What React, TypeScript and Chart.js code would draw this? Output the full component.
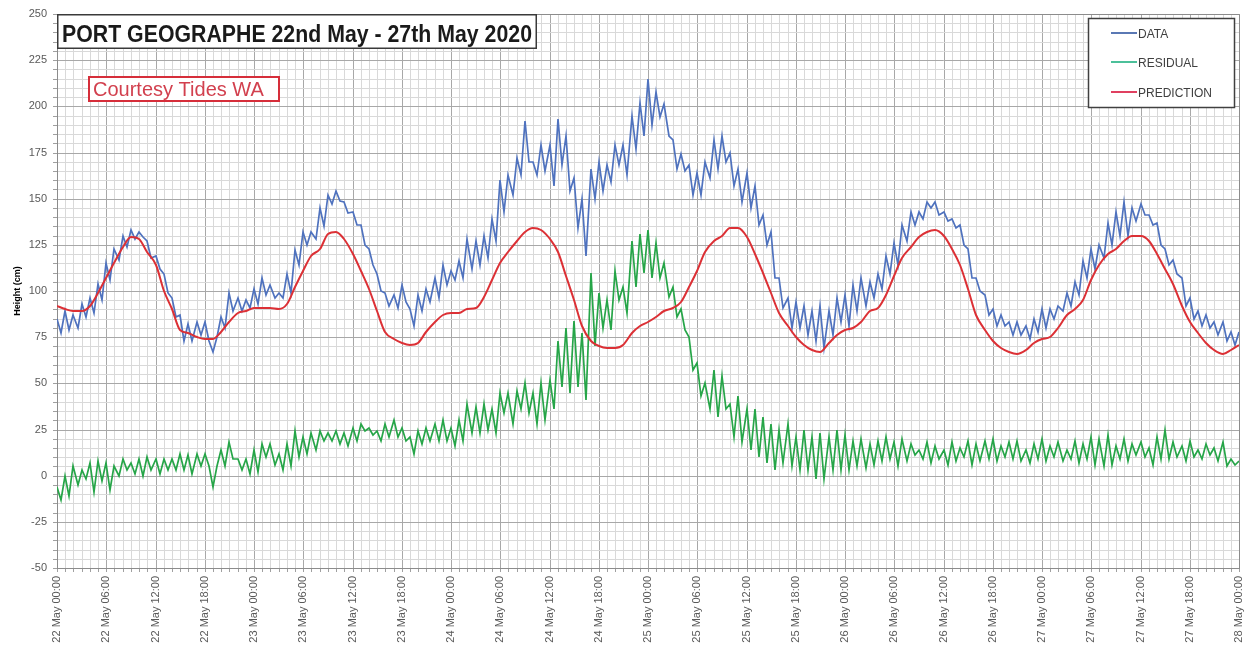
import React, { useEffect, useRef } from 'react';
import { Chart, registerables } from 'chart.js';

Chart.register(...registerables);

// X tick labels every 6 hours (x axis value = hours since 22 May 00:00)
const tickLabels = [
  '22 May 00:00', '22 May 06:00', '22 May 12:00', '22 May 18:00',
  '23 May 00:00', '23 May 06:00', '23 May 12:00', '23 May 18:00',
  '24 May 00:00', '24 May 06:00', '24 May 12:00', '24 May 18:00',
  '25 May 00:00', '25 May 06:00', '25 May 12:00', '25 May 18:00',
  '26 May 00:00', '26 May 06:00', '26 May 12:00', '26 May 18:00',
  '27 May 00:00', '27 May 06:00', '27 May 12:00', '27 May 18:00',
  '28 May 00:00',
];

const seriesNames = ['DATA', 'RESIDUAL', 'PREDICTION'];

// DATA, half-hourly readings (cm)
const data22 = [85,77,89,79,87,80,93,86,96,88,104,95,115,106,123,117,130,124,133,128,132,129,127,118,119,112,109,99,96,86,87,73,82,73,83,76,83,73,67,75,86,80,99,89,96,89,95,91];
const data23 = [101,93,107,98,103,96,99,96,109,99,122,114,132,125,132,128,145,135,152,147,154,149,148,142,143,136,136,125,123,114,109,100,99,92,98,91,103,94,90,81,98,89,101,94,107,96,114,103];
const data24 = [111,106,116,107,128,112,127,114,130,118,139,127,160,143,163,152,172,163,192,170,170,163,179,165,179,157,193,168,184,154,161,134,150,119,166,150,170,154,168,159,179,168,179,163,195,177,202,184];
const data25 = [215,190,208,194,201,184,182,166,174,165,168,152,164,152,170,161,182,166,184,170,175,157,166,148,164,145,157,136,141,125,132,107,107,91,96,80,94,80,92,76,89,73,92,69,89,76,96,83];
const data26 = [98,81,103,89,107,92,105,96,109,101,119,109,126,114,136,127,143,136,143,139,148,145,148,141,143,138,139,134,136,125,123,107,107,100,98,87,90,81,87,81,83,76,83,76,81,74,85,78];
const data27 = [90,80,90,85,92,89,99,92,105,98,116,107,123,112,125,118,137,125,143,130,148,130,145,138,147,141,141,136,137,125,123,114,117,109,107,92,96,85,89,81,87,80,83,76,83,73,78,71,78];

// RESIDUAL, half-hourly readings (cm)
const res22 = [-6,-13,0,-11,5,-5,3,-2,7,-9,8,-3,7,-8,5,0,9,3,7,1,9,0,10,3,9,1,9,3,9,3,12,3,11,1,12,5,12,5,-6,5,14,5,18,9,9,3,9,1];
const res23 = [14,2,17,10,17,6,12,3,17,5,24,10,21,12,23,14,24,19,23,19,24,17,23,16,26,19,28,24,26,22,24,19,28,21,30,21,26,19,21,12,24,17,26,19,28,19,30,19];
const res24 = [26,16,30,19,39,23,37,23,39,25,36,23,45,34,45,28,46,36,50,34,45,28,50,30,52,36,73,48,80,45,84,48,77,41,110,70,99,80,95,79,111,95,102,88,127,102,131,110];
const res25 = [133,107,126,107,115,97,102,86,90,79,75,57,61,43,50,36,57,32,54,36,39,21,43,18,36,14,36,10,32,7,28,3,25,7,28,5,21,3,25,3,21,-2,23,-2,21,3,25,3];
const res26 = [22,3,19,5,20,4,17,6,19,8,21,9,18,5,20,8,17,11,14,9,18,7,16,9,14,6,18,8,15,10,19,6,17,8,19,9,20,8,16,10,18,9,19,8,14,7,17,9];
const res27 = [20,8,16,10,18,8,14,9,19,7,17,9,21,6,20,5,22,6,16,9,20,8,17,11,18,10,15,6,21,9,25,9,18,10,16,8,19,10,14,9,17,11,15,8,18,5,9,6,8];

// PREDICTION, hourly readings (cm)
const pred22 = [92,90,89,89,92,99,107,115,124,129,128,121,114,100,90,79,77,75,74,74,78,83,88,89];
const pred23 = [91,91,91,90,93,102,111,119,123,131,132,128,120,111,101,89,78,74,72,71,72,78,83,87];
const pred24 = [88,88,90,91,97,106,115,121,127,132,134,133,128,121,108,95,81,73,70,69,69,71,77,81];
const pred25 = [83,86,89,91,94,102,111,121,127,130,134,134,129,120,110,99,88,81,75,71,68,67,72,76];
const pred26 = [79,80,83,89,91,98,108,118,124,129,132,133,130,123,114,101,87,79,73,69,67,66,68,72];
const pred27 = [74,75,80,87,90,95,106,114,120,123,127,130,130,127,120,112,104,92,83,77,72,68,66,68,71];

const HALF_HOUR = 0.5;

const COLORS = {
  data: '#4f72be',
  residual: '#26a548',
  prediction: '#dc3035',
  legendData: '#5a78b4',
  legendResidual: '#4cc09a',
  legendPrediction: '#e04060',
};

const overlayPlugin = {
  id: 'overlay',
  afterDraw(chart: any) {
    const { ctx, chartArea: a } = chart;
    ctx.save();
    // plot frame (top / right)
    ctx.strokeStyle = '#8c8c8c';
    ctx.lineWidth = 1;
    ctx.beginPath();
    ctx.moveTo(a.left, Math.round(a.top) + 0.5);
    ctx.lineTo(Math.round(a.right) + 0.5, Math.round(a.top) + 0.5);
    ctx.lineTo(Math.round(a.right) + 0.5, a.bottom);
    ctx.stroke();

    // Title box
    const tx = a.left, ty = a.top, tw = 480, th = 35;
    ctx.fillStyle = '#ffffff';
    ctx.fillRect(tx, ty, tw, th);
    ctx.strokeStyle = '#3a3a3a';
    ctx.lineWidth = 1.5;
    ctx.strokeRect(tx + 0.75, ty + 0.75, tw - 1.5, th - 1.5);
    const title = 'PORT GEOGRAPHE 22nd May - 27th May 2020';
    ctx.font = 'bold 23px "Liberation Sans", Arial, sans-serif';
    const w = ctx.measureText(title).width;
    const sx = 470 / w;
    ctx.save();
    ctx.translate(tx + 5, ty + 28);
    ctx.scale(sx, 1);
    ctx.fillStyle = '#1a1a1a';
    ctx.textAlign = 'left';
    ctx.textBaseline = 'alphabetic';
    ctx.fillText(title, 0, 0);
    ctx.restore();

    // Courtesy box
    ctx.fillStyle = '#ffffff';
    ctx.fillRect(89, 77, 190, 24);
    ctx.strokeStyle = '#d62e3a';
    ctx.lineWidth = 2;
    ctx.strokeRect(89, 77, 190, 24);
    ctx.font = '20px "Liberation Sans", Arial, sans-serif';
    ctx.fillStyle = '#d2404e';
    ctx.fillText('Courtesy Tides WA', 93, 96);

    // Legend box
    ctx.fillStyle = '#ffffff';
    ctx.fillRect(1088, 18, 147, 90);
    ctx.strokeStyle = '#404040';
    ctx.lineWidth = 1.5;
    ctx.strokeRect(1088.5, 18.5, 146, 89);
    const legendColors = [COLORS.legendData, COLORS.legendResidual, COLORS.legendPrediction];
    const ys = [33, 62, 92];
    ctx.font = '12px "Liberation Sans", Arial, sans-serif';
    seriesNames.forEach((name, i) => {
      ctx.strokeStyle = legendColors[i];
      ctx.lineWidth = 2;
      ctx.beginPath();
      ctx.moveTo(1111, ys[i]);
      ctx.lineTo(1137, ys[i]);
      ctx.stroke();
      ctx.fillStyle = '#404040';
      ctx.fillText(name, 1138, ys[i] + 4.5);
    });
    ctx.restore();
  },
};

export default function App() {
  const ref = useRef<HTMLCanvasElement>(null);

  useEffect(() => {
    document.body.style.margin = '0';
    const dataVals = [...data22, ...data23, ...data24, ...data25, ...data26, ...data27];
    const resVals = [...res22, ...res23, ...res24, ...res25, ...res26, ...res27];
    const predVals = [...pred22, ...pred23, ...pred24, ...pred25, ...pred26, ...pred27];

    const dataPts = dataVals.map((v, i) => ({ x: i * HALF_HOUR, y: v }));
    const resPts = resVals.map((v, i) => ({ x: i * HALF_HOUR, y: v }));
    const predPts = predVals.map((v, i) => ({ x: i, y: v }));

    const chart = new Chart(ref.current as HTMLCanvasElement, {
      type: 'line',
      data: {
        datasets: [
          {
            label: seriesNames[2],
            data: predPts,
            borderColor: COLORS.prediction,
            borderWidth: 2,
            pointRadius: 0,
            tension: 0.4,
            cubicInterpolationMode: 'monotone',
          },
          {
            label: seriesNames[0],
            data: dataPts,
            borderColor: COLORS.data,
            borderWidth: 1.7,
            pointRadius: 0,
            tension: 0,
          },
          {
            label: seriesNames[1],
            data: resPts,
            borderColor: COLORS.residual,
            borderWidth: 1.7,
            pointRadius: 0,
            tension: 0,
          },
        ],
      },
      options: {
        animation: false,
        responsive: false,
        parsing: false as any,
        normalized: true,
        layout: { padding: { left: 0, top: 14, right: 0, bottom: 0 } },
        plugins: {
          legend: { display: false },
          tooltip: { enabled: false },
          title: { display: false },
        },
        scales: {
          x: {
            type: 'linear',
            min: 0,
            max: 144,
            alignToPixels: true,
            ticks: {
              stepSize: 1,
              autoSkip: false,
              maxRotation: 90,
              minRotation: 90,
              padding: 4,
              color: '#595959',
              font: { family: '"Liberation Sans", Arial, sans-serif', size: 11 },
              callback: (v: any) => {
                const h = Math.round(Number(v));
                return h % 6 === 0 ? tickLabels[h / 6] : '';
              },
            },
            grid: {
              color: (c: any) => (c.tick && Math.round(c.tick.value) % 6 === 0 ? '#a8a8a8' : '#d9d9d9'),
              lineWidth: 1,
              drawTicks: true,
              tickLength: 4,
              tickColor: '#a0a0a0',
            },
            border: { color: '#8c8c8c', width: 1 },
            afterFit: (s: any) => {
              s.height = 79;
              s.paddingLeft = 0;
              s.paddingRight = 8;
            },
          },
          y: {
            type: 'linear',
            min: -50,
            max: 250,
            alignToPixels: true,
            ticks: {
              stepSize: 5,
              autoSkip: false,
              padding: 6,
              color: '#595959',
              font: { family: '"Liberation Sans", Arial, sans-serif', size: 11 },
              callback: (v: any) => (Math.round(Number(v)) % 25 === 0 ? String(Math.round(Number(v))) : ''),
            },
            grid: {
              color: (c: any) => (c.tick && Math.round(c.tick.value) % 25 === 0 ? '#a8a8a8' : '#d9d9d9'),
              lineWidth: 1,
              drawTicks: true,
              tickLength: 4,
              tickColor: '#a0a0a0',
            },
            border: { color: '#8c8c8c', width: 1 },
            title: {
              display: true,
              text: 'Height (cm)',
              color: '#000000',
              font: { family: '"Liberation Sans", Arial, sans-serif', size: 9, weight: 'bold' },
              padding: { top: 12, bottom: 0 },
            },
            afterFit: (s: any) => { s.width = 57; },
          },
        },
      },
      plugins: [overlayPlugin],
    } as any);

    return () => chart.destroy();
  }, []);

  return (
    <div style={{ width: 1247, height: 647, background: '#ffffff' }}>
      <canvas ref={ref} width={1247} height={647} style={{ display: 'block' }} />
    </div>
  );
}
